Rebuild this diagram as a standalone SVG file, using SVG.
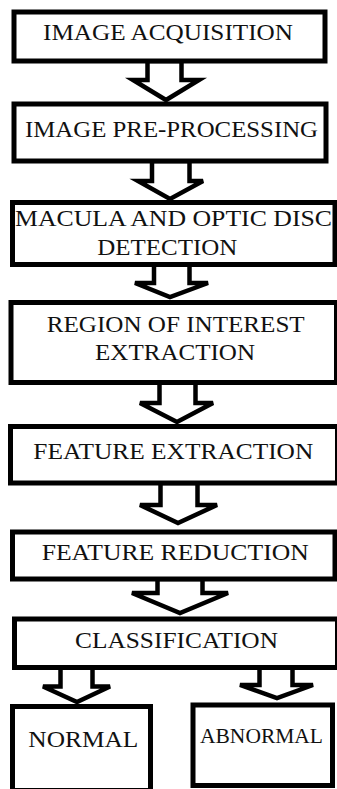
<svg xmlns="http://www.w3.org/2000/svg" width="337" height="789" viewBox="0 0 337 789">
<style>
.box{fill:#fff;stroke:#000;stroke-width:5}
.arr{fill:#fff;stroke:#000;stroke-width:4.5;stroke-linejoin:miter}
.t{font-family:"Liberation Serif","Times New Roman",serif;font-size:24px;fill:#111}
</style>
<rect width="337" height="789" fill="#fff"/>
<g id="connectors">
<polygon class="arr" points="147.5,61 147.5,80 133,80 166,100 199,80 181.5,80 181.5,61"/>
<polygon class="arr" points="152,161 152,181 138,181 170,199 203,181 189.5,181 189.5,161"/>
<polygon class="arr" points="154,264.5 154,283 135,283 170,297 208,283 189.5,283 189.5,264.5"/>
<polygon class="arr" points="159.5,382.5 159.5,403 140,403 177,422 213,403 195.5,403 195.5,382.5"/>
<polygon class="arr" points="160.5,483 160.5,505 140,505 178,523 217,505 197.5,505 197.5,483"/>
<polygon class="arr" points="157.5,579 157.5,593 132,593 180,613 228,593 202.5,593 202.5,579"/>
<polygon class="arr" points="60.5,667.5 60.5,686.5 43,686.5 77,702 110,686.5 92.5,686.5 92.5,667.5"/>
<polygon class="arr" points="259.5,667.5 259.5,685 240,685 277,698 313,685 292.5,685 292.5,667.5"/>
</g>
<g id="image-acquisition">
<rect class="box" x="14" y="12" width="311" height="49"/>
<text class="t" x="43" y="39.5" textLength="250" lengthAdjust="spacingAndGlyphs">IMAGE ACQUISITION</text>
</g>
<g id="image-pre-processing">
<rect class="box" x="14" y="104" width="312" height="57"/>
<text class="t" x="25" y="136.7" textLength="293" lengthAdjust="spacingAndGlyphs">IMAGE PRE-PROCESSING</text>
</g>
<g id="macula-optic-disc-detection">
<rect class="box" x="12.5" y="202.5" width="322.5" height="62"/>
<text class="t" x="15" y="226" textLength="317" lengthAdjust="spacingAndGlyphs">MACULA AND OPTIC DISC</text>
<text class="t" x="97.3" y="255" textLength="140" lengthAdjust="spacingAndGlyphs">DETECTION</text>
</g>
<g id="roi-extraction">
<rect class="box" x="11" y="302.5" width="325.5" height="80"/>
<text class="t" x="46.7" y="331.7" textLength="258" lengthAdjust="spacingAndGlyphs">REGION OF INTEREST</text>
<text class="t" x="95" y="360" textLength="160" lengthAdjust="spacingAndGlyphs">EXTRACTION</text>
</g>
<g id="feature-extraction">
<rect class="box" x="10.5" y="426.5" width="327" height="56.5"/>
<text class="t" x="33.3" y="459" textLength="280" lengthAdjust="spacingAndGlyphs">FEATURE EXTRACTION</text>
</g>
<g id="feature-reduction">
<rect class="box" x="12.5" y="532" width="322.5" height="47"/>
<text class="t" x="41.7" y="560" textLength="267" lengthAdjust="spacingAndGlyphs">FEATURE REDUCTION</text>
</g>
<g id="classification">
<rect class="box" x="14.5" y="619" width="323" height="48.5"/>
<text class="t" x="75" y="648.3" textLength="203" lengthAdjust="spacingAndGlyphs">CLASSIFICATION</text>
</g>
<g id="normal">
<rect class="box" x="12.5" y="706.5" width="138" height="84"/>
<text class="t" x="28.3" y="746.7" textLength="110" lengthAdjust="spacingAndGlyphs">NORMAL</text>
</g>
<g id="abnormal">
<rect class="box" x="193" y="705" width="139.5" height="80.5"/>
<text class="t" x="200" y="743.3" style="font-size:21px" textLength="123" lengthAdjust="spacingAndGlyphs">ABNORMAL</text>
</g>
</svg>
